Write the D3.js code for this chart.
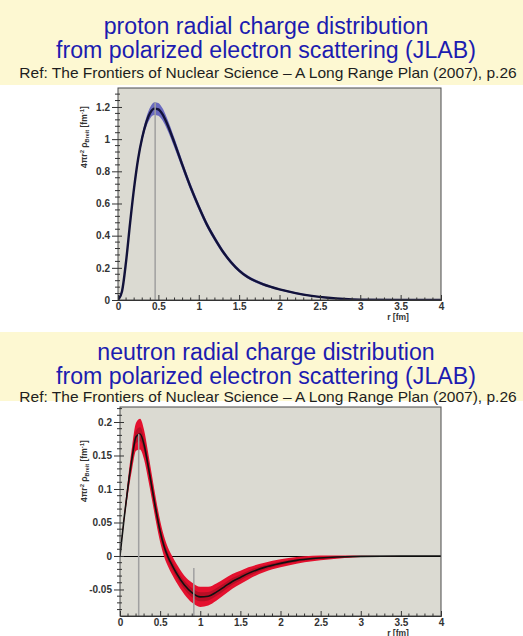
<!DOCTYPE html>
<html>
<head>
<meta charset="utf-8">
<script src="https://cdn.jsdelivr.net/npm/d3@7"></script>
<style>
  html, body { margin: 0; padding: 0; background: #ffffff; }
  svg { display: block; }
</style>
</head>
<body>
<svg id="chart" width="523" height="636"></svg>
<script>
// ---- data: 4πr²ρ_Breit vs r (fm) ----
const rProton = [0, 0.05, 0.1, 0.15, 0.2, 0.25, 0.3, 0.35, 0.4, 0.45, 0.5, 0.55, 0.6, 0.7, 0.8, 0.9, 1.0, 1.1, 1.2, 1.3, 1.4, 1.5, 1.6, 1.7, 1.8, 2.0, 2.2, 2.4, 2.6, 2.8, 3.0, 3.5, 4.0];
const protonValues = [0, 0.055, 0.24, 0.48, 0.70, 0.88, 1.01, 1.105, 1.165, 1.19, 1.185, 1.155, 1.105, 0.975, 0.835, 0.70, 0.58, 0.47, 0.38, 0.30, 0.235, 0.183, 0.145, 0.118, 0.097, 0.066, 0.043, 0.026, 0.014, 0.006, 0.002, 0, 0];
const protonErrors = [0, 0.003, 0.008, 0.012, 0.016, 0.02, 0.025, 0.03, 0.035, 0.04, 0.04, 0.038, 0.035, 0.03, 0.025, 0.022, 0.02, 0.018, 0.016, 0.014, 0.012, 0.011, 0.01, 0.009, 0.008, 0.006, 0.005, 0.004, 0.003, 0.002, 0.001, 0, 0];

const rNeutron = [0, 0.05, 0.1, 0.15, 0.2, 0.25, 0.3, 0.35, 0.4, 0.45, 0.5, 0.55, 0.6, 0.65, 0.7, 0.8, 0.9, 1.0, 1.1, 1.2, 1.3, 1.4, 1.5, 1.6, 1.8, 2.0, 2.2, 2.4, 2.6, 2.8, 3.0, 3.5, 4.0];
const neutronValues = [0, 0.055, 0.104, 0.146, 0.178, 0.182, 0.166, 0.135, 0.101, 0.067, 0.037, 0.014, -0.002, -0.014, -0.025, -0.043, -0.055, -0.061, -0.060, -0.054, -0.046, -0.038, -0.032, -0.026, -0.017, -0.011, -0.0065, -0.0038, -0.0022, -0.0012, -0.0006, -0.0001, 0];
const neutronErrors = [0, 0.005, 0.011, 0.017, 0.021, 0.023, 0.022, 0.02, 0.018, 0.017, 0.016, 0.015, 0.014, 0.014, 0.014, 0.014, 0.015, 0.015, 0.014, 0.013, 0.012, 0.011, 0.01, 0.009, 0.007, 0.006, 0.005, 0.004, 0.003, 0.002, 0.001, 0, 0];

// marker lines: [r, top value]
const protonMarkers = [[0.46, 1.23]];
const neutronMarkers = [[0.233, 0.182], [0.92, -0.018]];

const xTicks = [0, 0.5, 1, 1.5, 2, 2.5, 3, 3.5, 4];
const xTickLabels = ["0", "0.5", "1", "1.5", "2", "2.5", "3", "3.5", "4"];
const protonYTicks = [0, 0.2, 0.4, 0.6, 0.8, 1.0, 1.2];
const protonYTickLabels = ["0", "0.2", "0.4", "0.6", "0.8", "1", "1.2"];
const neutronYTicks = [-0.05, 0, 0.05, 0.1, 0.15, 0.2];
const neutronYTickLabels = ["-0.05", "0", "0.05", "0.1", "0.15", "0.2"];

const titles = {
  proton: ["proton radial charge distribution", "from polarized electron scattering (JLAB)"],
  neutron: ["neutron radial charge distribution", "from polarized electron scattering (JLAB)"]
};
const refText = "Ref: The Frontiers of Nuclear Science \u2013 A Long Range Plan (2007), p.26";
const xTitle = "r [fm]";

// ---- layout ----
const svg = d3.select("#chart");
const SANS = "'Liberation Sans', Arial, Helvetica, sans-serif";

const panels = [
  {
    key: "proton", bandTop: 0, bandBottom: 85, titleY: [34, 58], refY: 78,
    frame: { x0: 118, x1: 441, y0: 88, y1: 300 },
    yDomain: [0, 1.318], yMinorStep: 0.04,
    yTicks: protonYTicks, yLabels: protonYTickLabels,
    r: rProton, v: protonValues, e: protonErrors, markers: protonMarkers,
    band: [{ k: 1, color: "#6a6abf" }], lineColor: "#12123a", lineWidth: 2.4,
    zeroLine: false, yTitleCenter: 137
  },
  {
    key: "neutron", bandTop: 332, bandBottom: 401, titleY: [360, 384], refY: 402,
    frame: { x0: 120, x1: 441, y0: 407, y1: 616 },
    yDomain: [-0.0896, 0.2224], yMinorStep: 0.01,
    yTicks: neutronYTicks, yLabels: neutronYTickLabels,
    r: rNeutron, v: neutronValues, e: neutronErrors, markers: neutronMarkers,
    band: [{ k: 1, color: "#e4102e" }, { k: 0.45, color: "#b80f26" }], lineColor: "#111111", lineWidth: 1.6,
    zeroLine: true, yTitleCenter: 471
  }
];

// title sizing: fit the second line to its measured width, share size with line 1
function fitSize(text, width, weight) {
  const t = svg.append("text").attr("font-family", SANS).attr("font-size", 20)
    .attr("font-weight", weight || "normal").text(text);
  const w = t.node().getComputedTextLength();
  t.remove();
  return 20 * width / w;
}
const titleSize = fitSize(titles.proton[1], 420);
const refSize = fitSize(refText, 498);

panels.forEach(p => {
  const g = svg.append("g");

  // yellow title band
  g.append("rect").attr("x", 0).attr("y", p.bandTop).attr("width", 523)
    .attr("height", p.bandBottom - p.bandTop).attr("fill", "#fdf8d2");

  titles[p.key].forEach((t, i) => {
    g.append("text").attr("x", 266).attr("y", p.titleY[i]).attr("text-anchor", "middle")
      .attr("font-family", SANS).attr("font-size", titleSize).attr("fill", "#1c1cb0").text(t);
  });
  g.append("text").attr("x", 268).attr("y", p.refY).attr("text-anchor", "middle")
    .attr("font-family", SANS).attr("font-size", refSize).attr("fill", "#1e1e1e").text(refText);

  const f = p.frame;
  const x = d3.scaleLinear().domain([0, 4]).range([f.x0, f.x1]);
  const y = d3.scaleLinear().domain(p.yDomain).range([f.y1, f.y0]);

  // plot area
  g.append("rect").attr("x", f.x0).attr("y", f.y0).attr("width", f.x1 - f.x0)
    .attr("height", f.y1 - f.y0).attr("fill", "#dbdad2");

  const clipId = "clip-" + p.key;
  g.append("clipPath").attr("id", clipId).append("rect")
    .attr("x", f.x0).attr("y", f.y0).attr("width", f.x1 - f.x0).attr("height", f.y1 - f.y0);
  const plot = g.append("g").attr("clip-path", `url(#${clipId})`);

  if (p.zeroLine) {
    plot.append("line").attr("x1", x(0)).attr("x2", x(4)).attr("y1", Math.round(y(0)) + 0.5)
      .attr("y2", Math.round(y(0)) + 0.5)
      .attr("stroke", "#000").attr("stroke-width", 1.2);
  }

  const pts = p.r.map((r, i) => ({ r, v: p.v[i], e: p.e[i] }));
  p.band.forEach(b => {
    const area = d3.area().x(d => x(d.r)).y0(d => y(d.v - d.e * b.k)).y1(d => y(d.v + d.e * b.k))
      .curve(d3.curveMonotoneX);
    plot.append("path").datum(pts).attr("d", area).attr("fill", b.color);
  });

  const line = d3.line().x(d => x(d.r)).y(d => y(d.v)).curve(d3.curveMonotoneX);
  plot.append("path").datum(pts).attr("d", line).attr("fill", "none")
    .attr("stroke", p.lineColor).attr("stroke-width", p.lineWidth);

  p.markers.forEach(([r, top]) => {
    plot.append("line").attr("x1", x(r)).attr("x2", x(r)).attr("y1", y(p.yDomain[0])).attr("y2", y(top))
      .attr("stroke", "#a0a0a0").attr("stroke-width", 1.5);
  });

  // frame
  g.append("rect").attr("x", f.x0).attr("y", f.y0).attr("width", f.x1 - f.x0)
    .attr("height", f.y1 - f.y0).attr("fill", "none").attr("stroke", "#4a4a4a").attr("stroke-width", 1);

  // x axis: ticks drawn inward, labels below
  const xAxis = d3.axisBottom(x).tickValues(xTicks).tickFormat((d, i) => xTickLabels[i])
    .tickSize(-5).tickPadding(3);
  const xg = g.append("g").attr("transform", `translate(0,${f.y1})`).call(xAxis);
  xg.select(".domain").attr("stroke", "#333");
  xg.selectAll(".tick line").attr("stroke", "#333");
  xg.selectAll("text").attr("font-family", SANS).attr("font-size", 10).attr("font-weight", "bold")
    .attr("fill", "#333");
  const xMinor = d3.range(0, 4.0001, 0.1).filter(v => Math.abs(v * 2 - Math.round(v * 2)) > 1e-6);
  g.append("g").selectAll("line").data(xMinor).join("line")
    .attr("x1", d => x(d)).attr("x2", d => x(d)).attr("y1", f.y1).attr("y2", f.y1 - 2.5)
    .attr("stroke", "#333");

  // y axis: major ticks crossing the frame edge, minor ticks in between
  const yAxis = d3.axisLeft(y).tickValues(p.yTicks).tickFormat((d, i) => p.yLabels[i])
    .tickSize(6).tickPadding(2);
  const yg = g.append("g").attr("transform", `translate(${f.x0},0)`).call(yAxis);
  yg.select(".domain").remove();
  yg.selectAll(".tick line").attr("stroke", "#333").attr("x2", -6).attr("x1", 4);
  yg.selectAll("text").attr("font-family", SANS).attr("font-size", 10).attr("font-weight", "bold")
    .attr("fill", "#333");
  const step = p.yMinorStep;
  const majorStep = p.yTicks[1] - p.yTicks[0];
  const yMinor = d3.range(Math.ceil(p.yDomain[0] / step), Math.floor(p.yDomain[1] / step) + 1)
    .map(k => k * step)
    .filter(v => Math.abs(v / majorStep - Math.round(v / majorStep)) > 1e-6);
  g.append("g").selectAll("line").data(yMinor).join("line")
    .attr("x1", f.x0 - 3).attr("x2", f.x0 + 2).attr("y1", d => y(d)).attr("y2", d => y(d))
    .attr("stroke", "#333");

  // axis titles
  g.append("text").attr("x", 398).attr("y", f.y1 + 19.5).attr("text-anchor", "middle")
    .attr("font-family", SANS).attr("font-size", 8.5).attr("font-weight", "bold").attr("fill", "#333")
    .text(xTitle);

  const yt = g.append("text").attr("transform", `translate(87,${p.yTitleCenter}) rotate(-90)`)
    .attr("text-anchor", "middle").attr("font-family", SANS).attr("font-size", 8.5)
    .attr("font-weight", "bold").attr("fill", "#333");
  yt.append("tspan").text("4\u03c0r");
  yt.append("tspan").attr("dy", -3).attr("font-size", 6).text("2");
  yt.append("tspan").attr("dy", 3).text(" \u03c1");
  yt.append("tspan").attr("dy", 2).attr("font-size", 5.5).text("Breit");
  yt.append("tspan").attr("dy", -2).text(" [fm");
  yt.append("tspan").attr("dy", -3).attr("font-size", 6).text("-1");
  yt.append("tspan").attr("dy", 3).text("]");
});
</script>
</body>
</html>
